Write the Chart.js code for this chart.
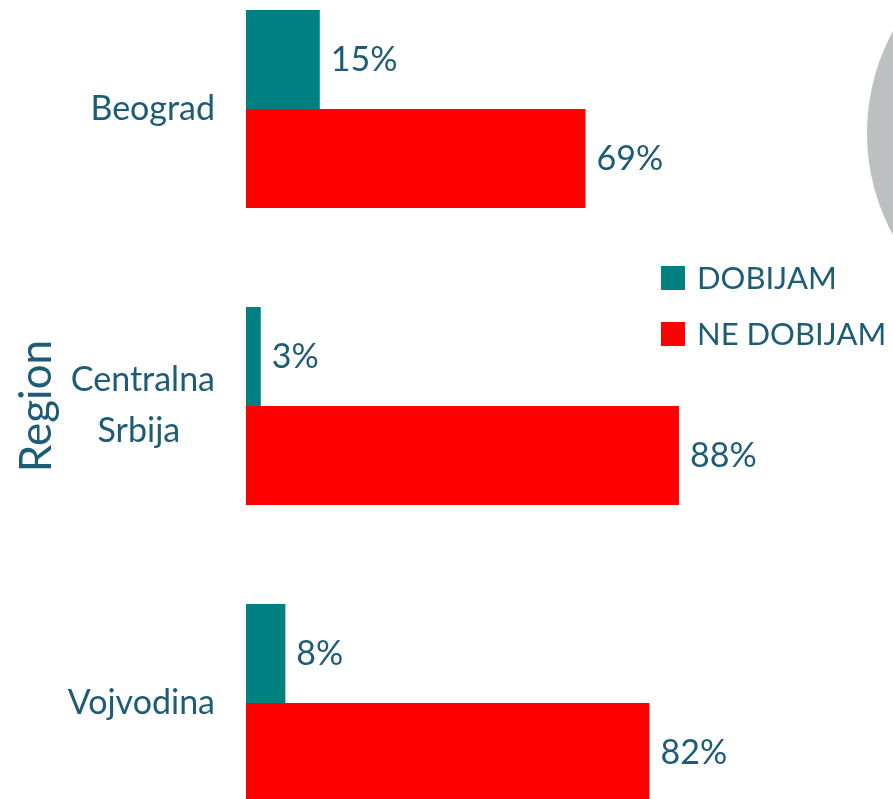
<!DOCTYPE html>
<html>
<head>
<meta charset="utf-8">
<script src="https://cdn.jsdelivr.net/npm/chart.js@4"></script>
<style>
  html, body { margin: 0; padding: 0; background: #fff; }
  #wrap { width: 893px; height: 799px; position: relative; }
</style>
</head>
<body>
<div id="wrap"><canvas id="chart"></canvas></div>
<script>
// Data
const regions = [['Beograd'], ['Centralna', 'Srbija    '], ['Vojvodina']];
const dobijam = [15, 3, 8];
const neDobijam = [69, 88, 82];
const seriesNames = ['DOBIJAM', 'NE DOBIJAM'];
const seriesColors = ['#008080', '#FF0000'];

const textColor = '#1d5c76';
const fontFamily = 'Lato, "Open Sans", sans-serif';

// Value labels next to the bar ends
const valueLabels = {
    id: 'valueLabels',
    afterDatasetsDraw(chart) {
        const ctx = chart.ctx;
        ctx.save();
        ctx.font = '34px ' + fontFamily;
        ctx.fillStyle = textColor;
        ctx.textAlign = 'left';
        ctx.textBaseline = 'middle';
        chart.data.datasets.forEach((ds, di) => {
            const meta = chart.getDatasetMeta(di);
            meta.data.forEach((bar, i) => {
                ctx.fillText(ds.data[i] + '%', bar.x + 11, bar.y + 1);
            });
        });
        ctx.restore();
    }
};

// Legend drawn in the middle right, plus the grey circle cut by the edge
const sideLegend = {
    id: 'sideLegend',
    beforeDraw(chart) {
        const ctx = chart.ctx;
        ctx.save();
        ctx.fillStyle = '#BEBFC1';
        ctx.beginPath();
        ctx.arc(1080, 133, 213, 0, Math.PI * 2);
        ctx.fill();
        ctx.restore();
    },
    afterDraw(chart) {
        const ctx = chart.ctx;
        ctx.save();
        ctx.font = '31px ' + fontFamily;
        ctx.textBaseline = 'middle';
        seriesNames.forEach((name, i) => {
            const y = 278 + i * 56;
            ctx.fillStyle = seriesColors[i];
            ctx.fillRect(661, y - 12, 24, 24);
            ctx.fillStyle = textColor;
            ctx.fillText(name, 697, y + 1);
        });
        ctx.restore();
    }
};

new Chart(document.getElementById('chart'), {
    type: 'bar',
    data: {
        labels: regions,
        datasets: [
            { label: seriesNames[0], data: dobijam, backgroundColor: seriesColors[0], clip: false },
            { label: seriesNames[1], data: neDobijam, backgroundColor: seriesColors[1], clip: false }
        ]
    },
    options: {
        indexAxis: 'y',
        responsive: true,
        maintainAspectRatio: false,
        animation: false,
        categoryPercentage: 0.667,
        barPercentage: 1,
        layout: { padding: { left: 0, right: 155, top: 109, bottom: 96 } },
        plugins: {
            legend: { display: false },
            tooltip: { enabled: false }
        },
        scales: {
            x: {
                display: false,
                min: 0,
                max: 100
            },
            y: {
                offset: false,
                grid: { display: false, drawTicks: false },
                border: { display: false },
                ticks: {
                    color: textColor,
                    padding: 31,
                    font: { family: fontFamily, size: 34, lineHeight: 1.5 }
                },
                title: {
                    display: true,
                    text: 'Region',
                    color: textColor,
                    padding: { top: 10, bottom: 0 },
                    font: { family: fontFamily, size: 44 }
                },
                afterFit(scale) { scale.width = 246; }
            }
        }
    },
    plugins: [valueLabels, sideLegend]
});
</script>
</body>
</html>
